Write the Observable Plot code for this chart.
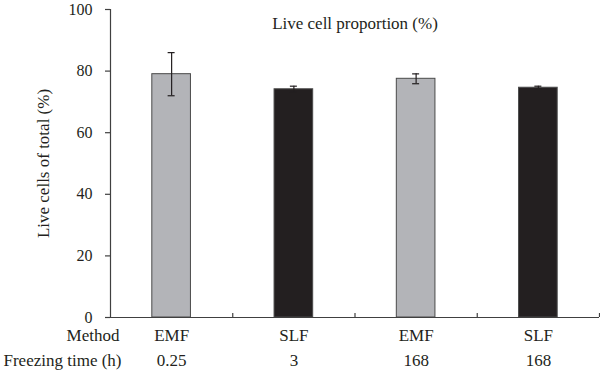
<!DOCTYPE html>
<html>
<head>
<meta charset="utf-8">
<script src="https://cdn.jsdelivr.net/npm/d3@7"></script>
<script src="https://cdn.jsdelivr.net/npm/@observablehq/plot@0.6"></script>
<style>
  html, body { margin: 0; padding: 0; background: #fff; }
  #chart svg { display: block; }
</style>
</head>
<body>
<div id="chart"></div>
<script>
// Live cell share per freezing method and freezing time
const methods = ["EMF", "SLF", "EMF", "SLF"];
const freezingTimes = ["0.25", "3", "168", "168"];
const liveCells = [79.0, 74.1, 77.5, 74.6];
const errors = [7.0, 1.0, 1.6, 0.5];
const yTicks = [0, 20, 40, 60, 80, 100];

const fillByMethod = { EMF: "#b3b4b8", SLF: "#231f20" };
const halfBar = 0.158; // half bar width, in category units
const font = "'Liberation Serif', 'DejaVu Serif', serif";
const ink = "#231f20";

const rows = methods.map((m, i) => ({
  center: i + 0.5,
  method: m,
  time: freezingTimes[i],
  value: liveCells[i],
  lo: liveCells[i] - errors[i],
  hi: liveCells[i] + errors[i]
}));
const boundaries = d3.range(1, methods.length + 1);

const textStyle = { fontFamily: font, fontSize: 17, fill: ink };

const chart = Plot.plot({
  width: 600,
  height: 379,
  marginTop: 9,
  marginBottom: 62,
  marginLeft: 110,
  marginRight: 1,
  style: { fontFamily: font, fontSize: "16px", color: ink, background: "#fff" },
  x: { domain: [0, methods.length], axis: null },
  y: { domain: [0, 100], axis: null },
  marks: [
    // bars
    Plot.rectY(rows, {
      x1: d => d.center - halfBar,
      x2: d => d.center + halfBar,
      y1: 0,
      y2: "value",
      fill: d => fillByMethod[d.method],
      stroke: "#4a4a4a",
      strokeWidth: 1
    }),
    // error bars with caps
    Plot.ruleX(rows, { x: "center", y1: "lo", y2: "hi", stroke: ink, strokeWidth: 1.2 }),
    Plot.ruleY(rows, { y: "hi", x1: "center", x2: "center", insetLeft: -3.5, insetRight: -3.5, stroke: ink, strokeWidth: 1.2 }),
    Plot.ruleY(rows, { y: "lo", x1: "center", x2: "center", insetLeft: -3.5, insetRight: -3.5, stroke: ink, strokeWidth: 1.2 }),
    // axis lines
    Plot.ruleX([0], { stroke: "#404040", strokeWidth: 1.2 }),
    Plot.ruleY([0], { stroke: "#404040", strokeWidth: 1.2 }),
    // category boundary ticks, pointing up from the baseline
    Plot.ruleX(boundaries, { x: d => d, y1: 0, y2: 0, insetBottom: 4, stroke: "#404040", strokeWidth: 1.2 }),
    // y axis ticks and labels
    Plot.axisY({
      ticks: yTicks,
      tickSize: 5,
      tickPadding: 13,
      stroke: "#404040",
      strokeWidth: 1.2,
      fontFamily: font,
      fontSize: 16,
      fill: ink,
      label: null
    }),
    // y axis title, centred on the value axis
    Plot.text(["Live cells of total (%)"], {
      x: () => 0,
      y: () => 50,
      rotate: -90,
      dx: -67,
      ...textStyle
    }),
    // chart title
    Plot.text(["Live cell proportion (%)"], {
      frameAnchor: "top",
      dy: 7,
      ...textStyle
    }),
    // category rows under the axis
    Plot.text(rows, { x: "center", text: "method", frameAnchor: "bottom", dy: 23, ...textStyle }),
    Plot.text(rows, { x: "center", text: "time", frameAnchor: "bottom", dy: 48, ...textStyle }),
    Plot.text(["Method"], { frameAnchor: "bottom-left", textAnchor: "end", dx: 9, dy: 23, ...textStyle }),
    Plot.text(["Freezing time (h)"], { frameAnchor: "bottom-left", textAnchor: "end", dx: 11, dy: 48, ...textStyle })
  ]
});

document.getElementById("chart").append(chart);
</script>
</body>
</html>
